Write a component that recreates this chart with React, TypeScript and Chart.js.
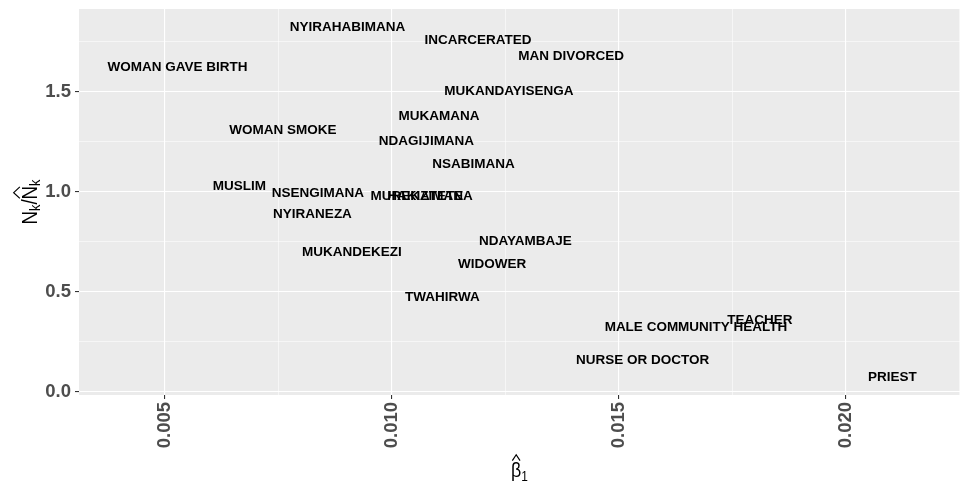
import React, { useEffect, useRef } from "react";
import { Chart, registerables } from "chart.js";

Chart.register(...registerables);

const labels = [
  "NYIRAHABIMANA", "INCARCERATED", "MAN DIVORCED", "WOMAN GAVE BIRTH", "MUKANDAYISENGA",
  "MUKAMANA", "WOMAN SMOKE", "NDAGIJIMANA", "NSABIMANA", "MUSLIM", "NSENGIMANA",
  "MUREKATETE", "HAKIZIMANA", "NYIRANEZA", "NDAYAMBAJE", "MUKANDEKEZI", "WIDOWER",
  "TWAHIRWA", "TEACHER", "MALE COMMUNITY HEALTH", "NURSE OR DOCTOR", "PRIEST",
];
const betaValues = [
  0.00902, 0.011894, 0.013943, 0.005275, 0.012577,
  0.011035, 0.007599, 0.01076, 0.011795, 0.006641, 0.00837,
  0.01055, 0.010837, 0.008249, 0.01294, 0.009119, 0.012203,
  0.011112, 0.018105, 0.016696, 0.015518, 0.021024,
];
const ratioValues = [
  1.8235, 1.7585, 1.678, 1.6235, 1.5035,
  1.3785, 1.3085, 1.2535, 1.1385, 1.0285, 0.9935,
  0.9785, 0.9785, 0.8885, 0.7535, 0.6985, 0.6385,
  0.4735, 0.3585, 0.3235, 0.1585, 0.0735,
];
const xTicks = [0.0075, 0.005, 0.0125, 0.01, 0.0175, 0.015, 0.0225, 0.02];
const yTicks = [0.25, 0, 0.75, 0.5, 1.25, 1, 1.75, 1.5];

const FONT = "'Liberation Sans', Arial, sans-serif";

const isMajorX = (v: number) => Math.abs(v * 200 - Math.round(v * 200)) < 1e-6;
const isMajorY = (v: number) => Math.abs(v * 2 - Math.round(v * 2)) < 1e-6;

const bgPlugin = {
  id: "panelBg",
  beforeDraw(chart: any) {
    const { ctx, chartArea: a } = chart;
    ctx.save();
    ctx.fillStyle = "#EBEBEB";
    ctx.fillRect(a.left, a.top, a.right - a.left, a.bottom - a.top);
    ctx.restore();
  },
};

type Seg = { t: string; size: number; dy: number; hat?: boolean; hatW?: number };

const SX = 0.85;

function drawRich(ctx: CanvasRenderingContext2D, segs: Seg[], cx: number, baseY: number) {
  let total = 0;
  const widths = segs.map((s) => {
    ctx.font = `${s.size}px ${FONT}`;
    const w = ctx.measureText(s.t).width * SX;
    total += w;
    return w;
  });
  let x = cx - total / 2;
  segs.forEach((s, i) => {
    ctx.save();
    ctx.font = `${s.size}px ${FONT}`;
    ctx.textAlign = "left";
    ctx.textBaseline = "alphabetic";
    ctx.translate(x, baseY + s.dy);
    ctx.scale(SX, 1);
    ctx.fillText(s.t, 0, 0);
    ctx.restore();
    if (s.hat) {
      const w = widths[i] * (s.hatW || 0.8);
      const mid = x + widths[i] / 2;
      const y0 = baseY - s.size * 0.78;
      const h = s.size * 0.28;
      ctx.save();
      ctx.strokeStyle = "#000000";
      ctx.lineWidth = 1.2;
      ctx.beginPath();
      ctx.moveTo(mid - w / 2, y0);
      ctx.lineTo(mid, y0 - h);
      ctx.lineTo(mid + w / 2, y0);
      ctx.stroke();
      ctx.restore();
    }
    x += widths[i];
  });
}

const labelPlugin = {
  id: "textLabels",
  afterDatasetsDraw(chart: any) {
    const { ctx } = chart;
    const xs = chart.scales.x;
    const ys = chart.scales.y;
    ctx.save();
    ctx.fillStyle = "#000000";
    ctx.font = `bold 13.5px ${FONT}`;
    ctx.textAlign = "center";
    ctx.textBaseline = "middle";
    labels.forEach((l, i) => {
      ctx.fillText(l, xs.getPixelForValue(betaValues[i]), ys.getPixelForValue(ratioValues[i]));
    });
    ctx.restore();
  },
  afterDraw(chart: any) {
    const { ctx, chartArea: a } = chart;
    ctx.save();
    ctx.fillStyle = "#000000";
    drawRich(
      ctx,
      [
        { t: "\u03B2", size: 21, dy: 0, hat: true, hatW: 0.75 },
        { t: "1", size: 14, dy: 4 },
      ],
      (a.left + a.right) / 2,
      477
    );
    ctx.translate(37, (a.top + a.bottom) / 2);
    ctx.rotate(-Math.PI / 2);
    drawRich(
      ctx,
      [
        { t: "N", size: 22, dy: 0 },
        { t: "k", size: 15, dy: 3 },
        { t: "/", size: 22, dy: 0 },
        { t: "N", size: 22, dy: 0, hat: true, hatW: 0.85 },
        { t: "k", size: 15, dy: 3 },
      ],
      0,
      0
    );
    ctx.restore();
  },
};

export default function App() {
  const ref = useRef<HTMLCanvasElement | null>(null);
  useEffect(() => {
    if (!ref.current) return;
    const chart = new Chart(ref.current, {
      type: "scatter",
      data: {
        datasets: [
          {
            data: betaValues.map((x, i) => ({ x, y: ratioValues[i] })),
            pointRadius: 0,
            pointHoverRadius: 0,
          },
        ],
      },
      options: {
        animation: false,
        responsive: false,
        devicePixelRatio: 1,
        events: [],
        layout: { padding: { left: 0, right: 10, top: 9, bottom: 0 } },
        plugins: { legend: { display: false }, tooltip: { enabled: false } },
        scales: {
          x: {
            type: "linear",
            min: 0.003106,
            max: 0.022511,
            afterBuildTicks: (s: any) => {
              s.ticks = xTicks.filter((v) => v >= s.min && v <= s.max).map((v) => ({ value: v }));
            },
            afterFit: (s: any) => {
              s.height = 92;
              s.paddingLeft = 0;
              s.paddingRight = 0;
              s.paddingTop = 0;
              s.paddingBottom = 0;
            },
            border: { display: false },
            grid: {
              color: "#FFFFFF",
              lineWidth: (c: any) => (isMajorX(c.tick.value) ? 1.1 : 0.55),
              tickColor: (c: any) => (isMajorX(c.tick.value) ? "#333333" : "rgba(0,0,0,0)"),
              tickLength: 4,
              tickWidth: 1.1,
            },
            ticks: {
              autoSkip: false,
              minRotation: 90,
              maxRotation: 90,
              padding: 3,
              color: "#4D4D4D",
              font: { family: FONT, size: 18.5, weight: "bold" },
              callback: (v: any) => (isMajorX(Number(v)) ? Number(v).toFixed(3) : ""),
            },
          },
          y: {
            type: "linear",
            min: -0.0165,
            max: 1.9135,
            afterBuildTicks: (s: any) => {
              s.ticks = yTicks.filter((v) => v >= s.min && v <= s.max).map((v) => ({ value: v }));
            },
            afterFit: (s: any) => {
              s.width = 79;
              s.paddingLeft = 0;
              s.paddingRight = 0;
              s.paddingTop = 0;
              s.paddingBottom = 0;
            },
            border: { display: false },
            grid: {
              color: "#FFFFFF",
              lineWidth: (c: any) => (isMajorY(c.tick.value) ? 1.1 : 0.55),
              tickColor: (c: any) => (isMajorY(c.tick.value) ? "#333333" : "rgba(0,0,0,0)"),
              tickLength: 4,
              tickWidth: 1.1,
            },
            ticks: {
              autoSkip: false,
              padding: 4,
              color: "#4D4D4D",
              font: { family: FONT, size: 18.5, weight: "bold" },
              callback: (v: any) => (isMajorY(Number(v)) ? Number(v).toFixed(1) : ""),
            },
          },
        },
      },
      plugins: [bgPlugin, labelPlugin],
    } as any);
    return () => chart.destroy();
  }, []);
  return (
    <div style={{ position: "absolute", left: 0, top: 0, width: 970, height: 487, background: "#FFFFFF" }}>
      <canvas ref={ref} width={970} height={487} style={{ width: 970, height: 487, display: "block" }} />
    </div>
  );
}
